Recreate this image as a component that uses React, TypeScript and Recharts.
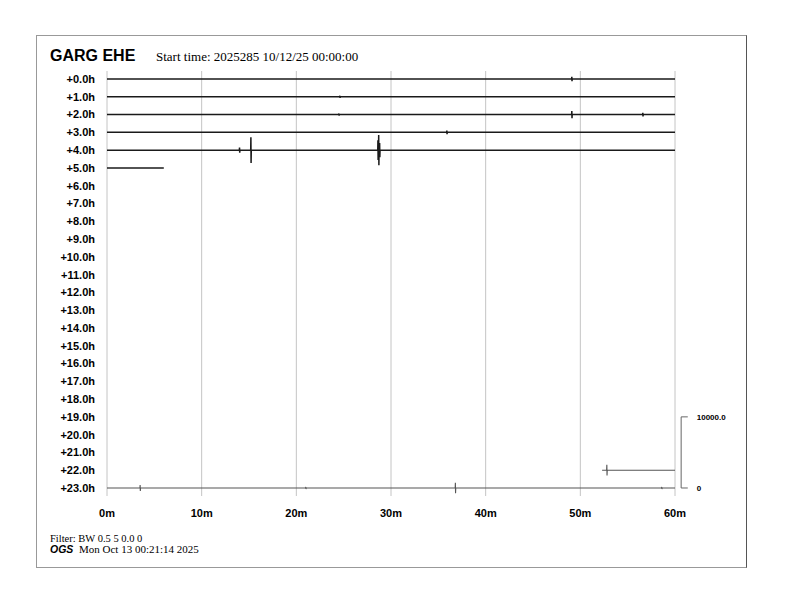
import React from 'react';
import { ComposedChart, Line, XAxis, YAxis, CartesianGrid, ReferenceLine } from 'recharts';

const hourLabels = ['+0.0h','+1.0h','+2.0h','+3.0h','+4.0h','+5.0h','+6.0h','+7.0h','+8.0h','+9.0h','+10.0h','+11.0h','+12.0h','+13.0h','+14.0h','+15.0h','+16.0h','+17.0h','+18.0h','+19.0h','+20.0h','+21.0h','+22.0h','+23.0h'];
const minuteTicks = [0, 10, 20, 30, 40, 50, 60];
const minuteLabels = ['0m', '10m', '20m', '30m', '40m', '50m', '60m'];

// rows with recorded data: [row, start minute, end minute]
const traceRows: [number, number, number][] = [
  [0, 0, 60], [1, 0, 60], [2, 0, 60], [3, 0, 60], [4, 0, 60],
  [5, 0, 6.0], [22, 52.3, 60], [23, 0, 60],
];
// spikes: [row, minute, amplitude in row units]
const spikes: [number, number, number][] = [
  [0, 49.1, 0.12],
  [1, 24.6, 0.06],
  [2, 49.1, 0.2], [2, 56.6, 0.1], [2, 24.5, 0.06],
  [3, 35.9, 0.1],
  [4, 14.0, 0.14], [4, 15.2, 0.72], [4, 28.62, 0.55], [4, 28.7, 0.85], [4, 28.8, 0.4],
  [22, 52.8, 0.3],
  [23, 3.5, 0.17], [23, 21.0, 0.06], [23, 36.8, 0.3], [23, 58.6, 0.06],
];
const traceColors: Record<number, string> = { 22: '#555', 23: '#555' };

const buildTrace = (row: number, start: number, end: number) => {
  const pts: { x: number; y: number }[] = [{ x: start, y: row }];
  spikes.filter(s => s[0] === row).sort((a, b) => a[1] - b[1]).forEach(([, m, a]) => {
    pts.push({ x: m - 0.02, y: row });
    pts.push({ x: m, y: row - a });
    pts.push({ x: m + 0.02, y: row + a });
    pts.push({ x: m + 0.04, y: row });
  });
  pts.push({ x: end, y: row });
  return pts;
};

const sans = '"Liberation Sans", Arial, Helvetica, sans-serif';
const serif = '"Liberation Serif", "Times New Roman", serif';

export default function App() {
  return (
    <div style={{ position: 'absolute', left: 0, top: 0, width: 792, height: 612, background: '#fff' }}>
      <div style={{ position: 'absolute', left: 36, top: 35, width: 709, height: 531, borderTop: '1px solid #999', borderLeft: '1px solid #999', borderBottom: '1px solid #999', borderRight: '1px solid #555' }} />
      <ComposedChart width={792} height={612} margin={{ top: 71, right: 117, left: 47, bottom: 86 }} style={{ position: 'absolute', left: 0, top: 0 }}>
        <CartesianGrid horizontal={false} vertical stroke="#c4c4c4" strokeWidth={1} />
        <XAxis
          type="number" dataKey="x" domain={[0, 60]} ticks={minuteTicks} interval={0}
          axisLine={false} tickLine={false} tickSize={0} tickMargin={13} height={30}
          tickFormatter={(v: number) => minuteLabels[minuteTicks.indexOf(v)]}
          tick={{ fontFamily: sans, fontSize: 11, fontWeight: 'bold', fill: '#000' }}
          allowDataOverflow
        />
        <YAxis
          type="number" dataKey="y" domain={[-0.45, 23.45]} reversed width={60}
          ticks={hourLabels.map((_, i) => i)} interval={0}
          axisLine={false} tickLine={false} tickSize={0} tickMargin={12}
          tickFormatter={(v: number) => hourLabels[v]}
          tick={{ fontFamily: sans, fontSize: 11, fontWeight: 'bold', fill: '#000' }}
          allowDataOverflow
        />
        {traceRows.map(([row, s, e]) => (
          <Line key={row} data={buildTrace(row, s, e)} dataKey="y" type="linear"
            stroke={traceColors[row] || '#1a1a1a'} strokeWidth={row >= 22 ? 1.1 : 1.5}
            dot={false} isAnimationActive={false} />
        ))}
        <ReferenceLine segment={[{ x: 60.65, y: 19 }, { x: 60.65, y: 23 }]} stroke="#666" ifOverflow="visible" />
        <ReferenceLine segment={[{ x: 60.65, y: 19 }, { x: 61.35, y: 19 }]} stroke="#666" ifOverflow="visible"
          label={{ value: '10000.0', position: 'right', offset: 9, fontFamily: sans, fontSize: 8, fontWeight: 'bold', fill: '#000' }} />
        <ReferenceLine segment={[{ x: 60.65, y: 23 }, { x: 61.35, y: 23 }]} stroke="#666" ifOverflow="visible"
          label={{ value: '0', position: 'right', offset: 9, fontFamily: sans, fontSize: 8, fontWeight: 'bold', fill: '#000' }} />
      </ComposedChart>
      <svg width={792} height={612} style={{ position: 'absolute', left: 0, top: 0, pointerEvents: 'none' }}>
        <text x={50} y={61} fontFamily={sans} fontSize={16} fontWeight="bold" fill="#000">GARG EHE</text>
        <text x={156} y={61} fontFamily={serif} fontSize={13} fill="#000">Start time: 2025285 10/12/25 00:00:00</text>
        <text x={50} y={541.5} fontFamily={serif} fontSize={10.5} fill="#000">Filter: BW 0.5 5 0.0 0</text>
        <text x={50} y={553} fontFamily={sans} fontSize={10.5} fontWeight="bold" fontStyle="italic" fill="#000">OGS</text>
        <text x={79} y={553} fontFamily={serif} fontSize={11} fill="#000">Mon Oct 13 00:21:14 2025</text>
      </svg>
    </div>
  );
}
